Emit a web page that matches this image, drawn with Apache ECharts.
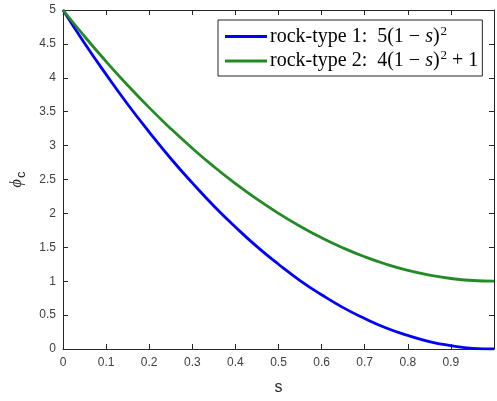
<!DOCTYPE html>
<html><head><meta charset="utf-8">
<script src="https://cdn.jsdelivr.net/npm/echarts@6/dist/echarts.min.js"></script>
<style>html,body{margin:0;padding:0;background:#fff}#c{width:497px;height:401px}</style>
</head><body><div id="c"></div>
<script>
const sValues = [0, 0.05, 0.1, 0.15, 0.2, 0.25, 0.3, 0.35, 0.4, 0.45, 0.5, 0.55, 0.6, 0.65, 0.7, 0.75, 0.8, 0.85, 0.9, 0.95, 1.0];
const rock1 = [5, 4.51, 4.05, 3.61, 3.2, 2.81, 2.45, 2.11, 1.8, 1.51, 1.25, 1.01, 0.8, 0.61, 0.45, 0.31, 0.2, 0.11, 0.05, 0.01, 0];
const rock2 = [5, 4.61, 4.24, 3.89, 3.56, 3.25, 2.96, 2.69, 2.44, 2.21, 2.0, 1.81, 1.64, 1.49, 1.36, 1.25, 1.16, 1.09, 1.04, 1.01, 1.0];
const seriesNames = ['rock-type 1', 'rock-type 2'];
const xTicks = [0, 0.1, 0.2, 0.3, 0.4, 0.5, 0.6, 0.7, 0.8, 0.9];

const axisCol = '#262626';
const labelCol = '#404040';
const sans = 'Liberation Sans, Arial, sans-serif';
const serif = 'Liberation Serif, serif';

const chart = echarts.init(document.getElementById('c'), null, {renderer: 'canvas'});
const pairs = arr => sValues.map((s, i) => [s, arr[i]]);

const legendRich = {
  t: {fontFamily: serif, fontSize: 20, color: '#000'},
  i: {fontFamily: serif, fontStyle: 'italic', fontSize: 20, color: '#000'},
  sup: {fontFamily: serif, fontSize: 13, color: '#000', padding: [0, 0, 10, 1]}
};

const axLine = {show: true, onZero: false, lineStyle: {color: axisCol, width: 1}};
const tick = {show: true, inside: true, length: 5, lineStyle: {color: axisCol}};

chart.setOption({
  animation: false,
  grid: {left: 63, top: 10, width: 437, height: 340, containLabel: false},
  legend: {
    orient: 'vertical',
    left: 218, top: 20,
    padding: [5, 4, 5, 7],
    itemWidth: 42, itemHeight: 3,
    itemGap: 3,
    icon: 'rect',
    borderColor: axisCol, borderWidth: 1,
    backgroundColor: '#fff',
    data: seriesNames,
    textStyle: {rich: legendRich, lineHeight: 20, padding: [0, 0, 0, -2]},
    formatter: function (name) {
      if (name === seriesNames[0]) return '{t|rock-type 1:  5(1 − }{i|s}{t|)}{sup|2}';
      return '{t|rock-type 2:  4(1 − }{i|s}{t|)}{sup|2}{t| + 1}';
    }
  },
  xAxis: [{
    type: 'value', min: 0, max: 1, interval: 0.1,
    name: 's', nameLocation: 'middle', nameGap: 31,
    nameTextStyle: {fontFamily: sans, fontSize: 16, color: '#262626'},
    axisLine: axLine, axisTick: tick,
    axisLabel: {fontFamily: sans, fontSize: 12, color: labelCol, margin: 8,
      formatter: v => (xTicks.some(t => Math.abs(t - v) < 1e-9) ? String(+v.toFixed(1)) : '')},
    splitLine: {show: false}
  }, {
    type: 'value', min: 0, max: 1, interval: 0.1, position: 'top',
    axisLine: axLine, axisTick: tick,
    axisLabel: {show: false}, splitLine: {show: false}
  }],
  yAxis: [{
    type: 'value', min: 0, max: 5, interval: 0.5,
    name: '{p|ϕ}{c|c}', nameLocation: 'middle', nameGap: 33, nameRotate: 90,
    nameTextStyle: {rich: {
      p: {fontFamily: serif, fontStyle: 'italic', fontSize: 16, color: '#262626'},
      c: {fontFamily: sans, fontSize: 13, color: '#262626', padding: [0, 0, -10, 1]}
    }},
    axisLine: axLine, axisTick: tick,
    axisLabel: {fontFamily: sans, fontSize: 12, color: labelCol, margin: 7},
    splitLine: {show: false}
  }, {
    type: 'value', min: 0, max: 5, interval: 0.5, position: 'right',
    axisLine: axLine, axisTick: tick,
    axisLabel: {show: false}, splitLine: {show: false}
  }],
  series: [{
    name: seriesNames[0], type: 'line', data: pairs(rock1), smooth: true,
    symbol: 'none', color: '#0000ff', lineStyle: {width: 2.8, color: '#0000ff'}
  }, {
    name: seriesNames[1], type: 'line', data: pairs(rock2), smooth: true,
    symbol: 'none', color: '#238b23', lineStyle: {width: 2.8, color: '#238b23'}
  }]
});
</script></body></html>
